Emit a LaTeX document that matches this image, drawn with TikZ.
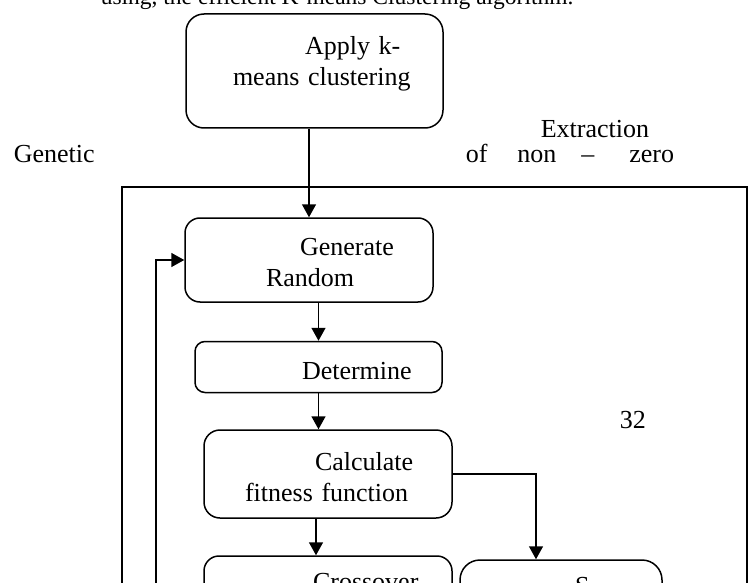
\documentclass[tikz,border=0pt]{standalone}
\usepackage{fontspec}
\setmainfont{Liberation Serif}
\usetikzlibrary{arrows.meta}

\tikzset{
  stage/.style={draw, rounded corners=15pt, align=left, inner sep=0pt},
  plain/.style={inner sep=0pt, anchor=base west}
}

\begin{document}
\begin{tikzpicture}[x=1pt, y=-1pt, node distance=107pt, line width=1.5pt, >={Triangle[length=13pt, width=14pt]}, every node/.style={font=\fontsize{26}{31}\selectfont}]
\useasboundingbox (0,0) rectangle (755,583);
\clip (0,0) rectangle (755,583);

% Specification of nodes (position, etc.)

\node (kmeans)      [stage, rounded corners=18pt, text width=257pt, minimum height=114pt, text height=20pt, text depth=52pt]   at (314.5,71)
    {\hspace*{119pt}Apply k-\\\hspace*{47pt}means clustering};

\node (generate)    [stage, below of=kmeans, yshift=-82pt, xshift=-5.5pt, text width=248pt, minimum height=84pt, text height=20pt, text depth=30pt]
    {\hspace*{115pt}Generate\\\hspace*{81pt}Random};
\node (determine)   [stage, below of=generate, xshift=9.5pt, rounded corners=10pt, text width=247pt, minimum height=51pt, text height=25pt, text depth=0pt]
    {\hspace*{107pt}Determine};
\node (calculate)   [stage, below of=determine, xshift=9.5pt, rounded corners=16pt, text width=248pt, minimum height=88pt, text height=20pt, text depth=28pt]
    {\hspace*{111pt}Calculate\\\hspace*{41pt}fitness function};
\node (crossover)   [stage, below of=calculate, yshift=-19pt, text width=248pt, minimum height=88pt, text height=20pt, text depth=40pt]
    {\hspace*{109pt}Crossover};
\node (select)      [stage, right of=crossover, xshift=126pt, rounded corners=20pt, text width=202pt, minimum height=80pt, text height=20pt, text depth=32pt]
    {\hspace*{115pt}S};

\node (topline)     [plain, font=\fontsize{23.5}{28}\selectfont]    at (100,5)  {using, the efficient K-means Clustering algorithm.};
\node (genetic)     [plain]     at (13,163)     {Genetic};
\node (extract)     [plain, text width=210pt, align=left]   at (465,138)
    {\hspace*{75pt}Extraction\\[-6pt]of\hspace{30pt}non\hspace{25pt}--\hspace{35pt}zero};
\node (pagenum)     [plain]     at (619,428)    {32};

% frame of the genetic part
\draw (122,700) -- (122,187) -- (747,187) -- (747,700);
\coordinate (loopstart) at (156,700);

\draw[->]   (kmeans.south -| generate) -- (generate.north);
\draw[->]   (generate.south -| determine) -- (determine.north);
\draw[->]   (determine.south) -- (determine.south |- calculate.north);
\draw[->]   ([xshift=-12pt]calculate.south) -- ([xshift=-12pt]crossover.north);
\draw[->]   (calculate.east) -| ([xshift=-25pt]select.north);
\draw[->]   (loopstart) |- (generate.west);

\end{tikzpicture}
\end{document}
